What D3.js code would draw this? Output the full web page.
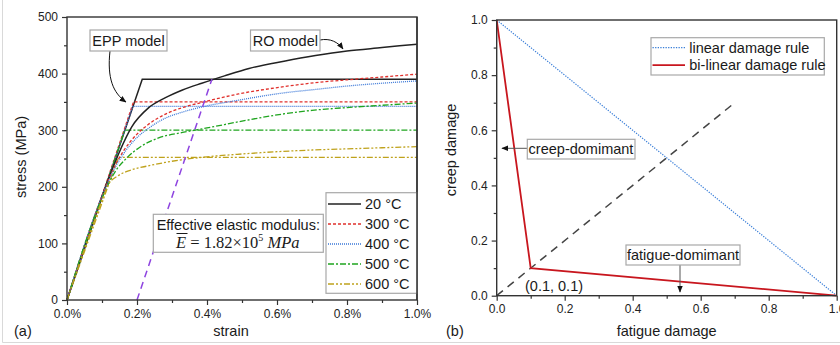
<!DOCTYPE html>
<html>
<head>
<meta charset="utf-8">
<script src="https://cdn.jsdelivr.net/npm/d3@7"></script>
<style>
  body { margin: 0; background: #fff; }
  svg { font-family: 'Liberation Sans', Arial, sans-serif; display: block; }
</style>
</head>
<body>
<div id="chart"></div>
<script>
// ---- panel (a): strain (%) vs stress (MPa) ----
const temps = ['20 °C', '300 °C', '400 °C', '500 °C', '600 °C'];

// elastic-perfectly-plastic curves [strain %, stress MPa]
const epp20 = [[0, 0], [0.215, 390], [1.0, 390]];
const epp300 = [[0, 0], [0.19, 350], [1.0, 350]];
const epp400 = [[0, 0], [0.188, 342], [1.0, 342]];
const epp500 = [[0, 0], [0.165, 300], [1.0, 300]];
const epp600 = [[0, 0], [0.147, 252], [1.0, 252]];

// Ramberg-Osgood curves
const ro20 = [[0, 0], [0.11, 200], [0.13, 232], [0.15, 262], [0.185, 306], [0.232, 339], [0.28, 357], [0.33, 371], [0.385, 383], [0.45, 396], [0.52, 409], [0.62, 422], [0.71, 432], [0.8, 440], [0.9, 446], [1.0, 452]];
const ro300 = [[0, 0], [0.11, 199], [0.13, 228], [0.16, 262], [0.2, 293], [0.232, 310], [0.28, 328], [0.33, 340], [0.385, 349], [0.49, 364], [0.62, 377], [0.71, 384], [0.8, 389], [0.9, 394], [1.0, 399]];
const ro400 = [[0, 0], [0.11, 198], [0.13, 225], [0.16, 257], [0.2, 287], [0.232, 303], [0.28, 321], [0.33, 332], [0.385, 341], [0.49, 353], [0.62, 366], [0.71, 372], [0.8, 378], [0.9, 383], [1.0, 387]];
const ro500 = [[0, 0], [0.1, 180], [0.12, 207], [0.14, 229], [0.166, 248], [0.213, 272], [0.26, 286], [0.33, 296], [0.4, 304], [0.5, 316], [0.6, 327], [0.7, 335], [0.8, 340], [0.9, 344], [1.0, 348]];
const ro600 = [[0, 0], [0.09, 160], [0.105, 185], [0.118, 204], [0.147, 220], [0.185, 230], [0.232, 237], [0.28, 243], [0.33, 248], [0.4, 253], [0.5, 258], [0.6, 262], [0.7, 265], [0.8, 267], [0.9, 269], [1.0, 271]];

// 0.2 % offset line
const offsetLine = [[0.2, 0], [0.414, 390]];

const strainTicks = [0, 0.2, 0.4, 0.6, 0.8, 1.0];
const strainMinor = [0.1, 0.3, 0.5, 0.7, 0.9];
const stressTicks = [0, 100, 200, 300, 400, 500];
const stressMinor = [50, 150, 250, 350, 450];

// ---- panel (b): fatigue damage vs creep damage ----
const ruleNames = ['linear damage rule', 'bi-linear damage rule'];
const linearRule = [[0, 1], [1, 0]];
const bilinearRule = [[0, 1], [0.1, 0.1], [1, 0]];
const diagonal = [[0, 0], [0.7, 0.7]];
const damageTicks = [0, 0.2, 0.4, 0.6, 0.8, 1.0];
const damageMinor = [0.1, 0.3, 0.5, 0.7, 0.9];

const W = 840, H = 345;
const FONT = 14.5;
const COLORS = ['#222', '#e0302c', '#3b78d8', '#1fa51f', '#bfa21c'];
const DASHES = [null, '3,2', '1,1', '6,2,2,2', '6,2,2,2,2,2'];
const eppSeries = [epp20, epp300, epp400, epp500, epp600];
const roSeries = [ro20, ro300, ro400, ro500, ro600];

const svg = d3.select('#chart').append('svg').attr('width', W).attr('height', H);

const defs = svg.append('defs');
defs.append('marker')
  .attr('id', 'arrow')
  .attr('viewBox', '0 0 10 10')
  .attr('refX', 9).attr('refY', 5)
  .attr('markerWidth', 7).attr('markerHeight', 7)
  .attr('orient', 'auto')
  .append('path')
  .attr('d', 'M0,1 L10,5 L0,9 Z')
  .attr('fill', '#111');

// faint outer frame of the figure
svg.append('path')
  .attr('d', `M2.5,0 V342.5 H${W}`)
  .attr('fill', 'none')
  .attr('stroke', '#d9d9d9')
  .attr('stroke-width', 1);

function drawAxes(g, x, y, xt, xm, yt, ym, fmtX, fmtY) {
  const [x0, x1] = x.range();
  const [y0, y1] = y.range();
  g.append('g')
    .attr('transform', `translate(0,${y0})`)
    .call(d3.axisBottom(x).tickValues(xt).tickFormat(fmtX).tickSize(5).tickPadding(4))
    .call(a => a.select('.domain').remove());
  g.append('g')
    .attr('transform', `translate(0,${y0})`)
    .call(d3.axisBottom(x).tickValues(xm).tickFormat('').tickSize(3))
    .call(a => a.select('.domain').remove());
  g.append('g')
    .attr('transform', `translate(${x0},0)`)
    .call(d3.axisLeft(y).tickValues(yt).tickFormat(fmtY).tickSize(5).tickPadding(4))
    .call(a => a.select('.domain').remove());
  g.append('g')
    .attr('transform', `translate(${x0},0)`)
    .call(d3.axisLeft(y).tickValues(ym).tickFormat('').tickSize(3))
    .call(a => a.select('.domain').remove());
  g.selectAll('.tick text').attr('font-size', 12).attr('fill', '#222').attr('font-family', null);
  g.selectAll('.tick line').attr('stroke', '#333').attr('stroke-width', 1.2);
  g.append('rect')
    .attr('x', x0).attr('y', y1)
    .attr('width', x1 - x0).attr('height', y0 - y1)
    .attr('fill', 'none')
    .attr('stroke', '#333')
    .attr('stroke-width', 1.4);
}

function labelBox(g, x, y, w, h) {
  g.append('rect')
    .attr('x', x).attr('y', y).attr('width', w).attr('height', h)
    .attr('fill', '#fff')
    .attr('stroke', '#a8a8a8')
    .attr('stroke-width', 1.2);
}

function addText(g, txt, x, y, anchor) {
  return g.append('text')
    .attr('x', x).attr('y', y)
    .attr('text-anchor', anchor || 'start')
    .attr('font-size', FONT)
    .attr('fill', '#1a1a1a')
    .text(txt);
}

// ================= panel (a) =================
const ga = svg.append('g');
const xA = d3.scaleLinear().domain([0, 1.0]).range([67, 417]);
const yA = d3.scaleLinear().domain([0, 500]).range([300, 17]);
const lineA = d3.line().x(d => xA(d[0])).y(d => yA(d[1]));
const curveA = d3.line().x(d => xA(d[0])).y(d => yA(d[1])).curve(d3.curveMonotoneX);

eppSeries.forEach((s, i) => {
  ga.append('path')
    .attr('d', lineA(s))
    .attr('fill', 'none')
    .attr('stroke', COLORS[i])
    .attr('stroke-width', i === 0 ? 1.5 : 1.3)
    .attr('stroke-dasharray', DASHES[i]);
});
roSeries.forEach((s, i) => {
  ga.append('path')
    .attr('d', curveA(s))
    .attr('fill', 'none')
    .attr('stroke', COLORS[i])
    .attr('stroke-width', i === 0 ? 1.5 : 1.3)
    .attr('stroke-dasharray', DASHES[i]);
});

ga.append('path')
  .attr('d', lineA(offsetLine))
  .attr('fill', 'none')
  .attr('stroke', '#8e44e0')
  .attr('stroke-width', 1.5)
  .attr('stroke-dasharray', '7,5');

drawAxes(ga, xA, yA, strainTicks, strainMinor, stressTicks, stressMinor,
  d => d.toFixed(1) + '%', d => d);

ga.append('text')
  .attr('transform', 'translate(26,157) rotate(-90)')
  .attr('text-anchor', 'middle')
  .attr('font-size', FONT)
  .attr('fill', '#1a1a1a')
  .text('stress (MPa)');
addText(ga, 'strain', 231, 336, 'middle');
addText(ga, '(a)', 14, 336);

// EPP / RO annotations
ga.append('path')
  .attr('d', 'M110,51 C107,78 113,93 126,102')
  .attr('fill', 'none').attr('stroke', '#111').attr('stroke-width', 1)
  .attr('marker-end', 'url(#arrow)');
labelBox(ga, 90, 30, 77, 21);
addText(ga, 'EPP model', 128.5, 45.5, 'middle');

ga.append('path')
  .attr('d', 'M320,40 C330,38 338,42 343,49')
  .attr('fill', 'none').attr('stroke', '#111').attr('stroke-width', 1)
  .attr('marker-end', 'url(#arrow)');
labelBox(ga, 250.5, 30, 69.5, 21);
addText(ga, 'RO model', 285.3, 45.5, 'middle');

// effective modulus box
labelBox(ga, 153.3, 214.3, 170, 38);
addText(ga, 'Effective elastic modulus:', 238.3, 230, 'middle');
const eq = ga.append('text')
  .attr('x', 176).attr('y', 248)
  .attr('font-family', "'Liberation Serif', 'Times New Roman', serif")
  .attr('font-size', 16.5)
  .attr('fill', '#1a1a1a');
eq.append('tspan').attr('font-style', 'italic').text('E');
eq.append('tspan').text(' = 1.82×10');
eq.append('tspan').attr('font-size', 10).attr('dy', -7).text('5');
eq.append('tspan').attr('font-style', 'italic').attr('dy', 7).text(' MPa');
ga.append('line')
  .attr('x1', 176.5).attr('x2', 187.5)
  .attr('y1', 233.5).attr('y2', 233.5)
  .attr('stroke', '#1a1a1a').attr('stroke-width', 1);

// legend (a)
labelBox(ga, 326, 192.7, 91, 100.6);
temps.forEach((t, i) => {
  const yy = 204 + i * 20;
  ga.append('line')
    .attr('x1', 328).attr('x2', 361)
    .attr('y1', yy).attr('y2', yy)
    .attr('stroke', COLORS[i])
    .attr('stroke-width', i === 0 ? 1.5 : 1.3)
    .attr('stroke-dasharray', DASHES[i]);
  addText(ga, t, 365, yy + 5);
});
// redraw right frame edge over the legend box
ga.append('line')
  .attr('x1', 417).attr('x2', 417).attr('y1', 17).attr('y2', 300)
  .attr('stroke', '#333').attr('stroke-width', 1.4);

// ================= panel (b) =================
const gb = svg.append('g');
const xB = d3.scaleLinear().domain([0, 1]).range([496.7, 836.7]);
const yB = d3.scaleLinear().domain([0, 1]).range([295.7, 20]);
const lineB = d3.line().x(d => xB(d[0])).y(d => yB(d[1]));

gb.append('path')
  .attr('d', lineB(diagonal))
  .attr('fill', 'none')
  .attr('stroke', '#444')
  .attr('stroke-width', 1.5)
  .attr('stroke-dasharray', '8,6');
gb.append('path')
  .attr('d', lineB(linearRule))
  .attr('fill', 'none')
  .attr('stroke', '#3b7fd8')
  .attr('stroke-width', 1.2)
  .attr('stroke-dasharray', '1.3,1.3');
gb.append('path')
  .attr('d', lineB(bilinearRule))
  .attr('fill', 'none')
  .attr('stroke', '#c8161e')
  .attr('stroke-width', 1.8);

drawAxes(gb, xB, yB, damageTicks, damageMinor, damageTicks, damageMinor,
  d => d.toFixed(1), d => d.toFixed(1));

gb.append('text')
  .attr('transform', 'translate(456,150) rotate(-90)')
  .attr('text-anchor', 'middle')
  .attr('font-size', FONT)
  .attr('fill', '#1a1a1a')
  .text('creep damage');
addText(gb, 'fatigue damage', 666.7, 336, 'middle');
addText(gb, '(b)', 446, 336);

// legend (b)
labelBox(gb, 651, 37.7, 173.3, 37.3);
const ruleStyles = [
  { color: '#3b7fd8', dash: '1.3,1.3', width: 1.2 },
  { color: '#c8161e', dash: null, width: 1.8 }
];
ruleNames.forEach((r, i) => {
  const yy = 47.7 + i * 17.5;
  gb.append('line')
    .attr('x1', 652.5).attr('x2', 685)
    .attr('y1', yy).attr('y2', yy)
    .attr('stroke', ruleStyles[i].color)
    .attr('stroke-width', ruleStyles[i].width)
    .attr('stroke-dasharray', ruleStyles[i].dash);
  addText(gb, r, 689.3, yy + 5);
});

// creep / fatigue dominant annotations
gb.append('line')
  .attr('x1', 527).attr('x2', 502)
  .attr('y1', 148.3).attr('y2', 148.3)
  .attr('stroke', '#555').attr('stroke-width', 1)
  .attr('marker-end', 'url(#arrow)');
labelBox(gb, 527.3, 139.3, 107.7, 19.7);
addText(gb, 'creep-domimant', 581, 154, 'middle');

gb.append('line')
  .attr('x1', 680).attr('x2', 680)
  .attr('y1', 265).attr('y2', 292)
  .attr('stroke', '#555').attr('stroke-width', 1)
  .attr('marker-end', 'url(#arrow)');
labelBox(gb, 626, 245, 114, 20);
addText(gb, 'fatigue-domimant', 683, 260, 'middle');

addText(gb, '(0.1, 0.1)', 525, 291);
</script>
</body>
</html>
